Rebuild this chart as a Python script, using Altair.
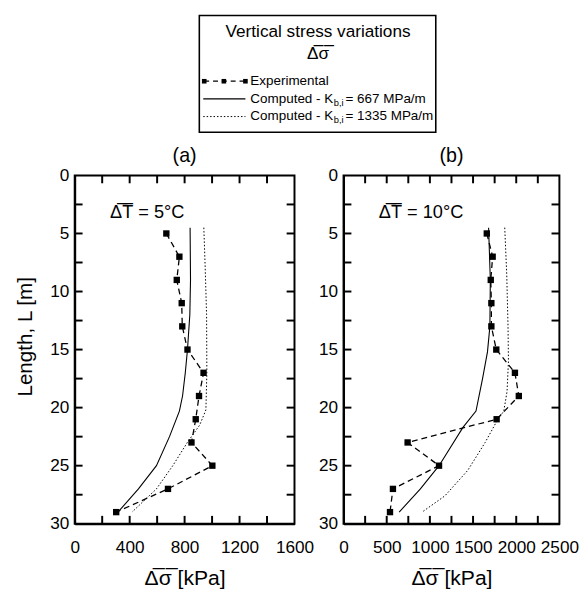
import altair as alt
import pandas as pd

FONT = "Liberation Sans"

# ---------------- data ----------------
L_exp = [5, 7, 9, 11, 13, 15, 17, 19, 21, 23, 25, 27, 29]
exp_a = [667, 762, 743, 779, 783, 821, 938, 905, 881, 850, 1002, 679, 302]
exp_b = [1659, 1727, 1705, 1712, 1712, 1769, 1985, 2030, 1773, 742, 1106, 572, 538]

L_c667_a = [4.5, 9, 12, 15, 17, 19, 20.3, 22.5, 25, 27, 29]
c667_a = [840, 843, 838, 821, 805, 785, 762, 690, 595, 464, 315]
L_c1335_a = [4.5, 8, 12, 17, 20.2, 21.5, 23, 25, 27, 29]
c1335_a = [940, 950, 960, 962, 955, 910, 820, 714, 595, 417]

L_c667_b = [4.5, 9, 13, 15.2, 17.5, 20.3, 21.7, 25, 27, 29]
c667_b = [1680, 1700, 1695, 1667, 1610, 1534, 1383, 1106, 890, 644]
L_c1335_b = [4.5, 8.5, 13, 16, 18.6, 20.3, 21.1, 23, 25.4, 27.6, 29]
c1335_b = [1867, 1890, 1905, 1910, 1894, 1856, 1780, 1640, 1439, 1174, 909]

y_labels = [0, 5, 10, 15, 20, 25, 30]
y_minor = [2.5, 5, 7.5, 10, 12.5, 15, 17.5, 20, 22.5, 25, 27.5]
x_labels_a = [0, 400, 800, 1200, 1600]
x_minor_a = [200, 400, 600, 800, 1000, 1200, 1400]
x_labels_b = [0, 500, 1000, 1500, 2000, 2500]
x_minor_b = [250, 500, 750, 1000, 1250, 1500, 1750, 2000, 2250]

W_A, W_B, H = 224, 220, 355
TK = 8
LAB = 17.5
TIT = 21


def panel(exp_vals, c1L, c1v, c2L, c2v, xmax, xlabels, xminor, width, title, dT, ytitle):
    exp_df = pd.DataFrame({"L": L_exp, "v": exp_vals})
    c1 = pd.DataFrame({"L": c1L, "v": c1v})
    c2 = pd.DataFrame({"L": c2L, "v": c2v})
    xs = alt.Scale(domain=[0, xmax], nice=False, zero=False)
    ys = alt.Scale(domain=[0, 30], reverse=True, nice=False)
    xaxis = alt.Axis(values=xlabels, format="d", title="Δ̅σ̅ [kPa]", ticks=False, grid=False,
                     domainColor="black", domainWidth=2, labelFontSize=LAB,
                     labelFont=FONT, labelColor="black", labelPadding=15,
                     titleFont=FONT, titleFontSize=21.5, titleFontWeight="normal",
                     titleColor="black", titlePadding=12, labelFlush=False)
    yaxis = alt.Axis(values=y_labels, format="d", title=ytitle, ticks=False, grid=False,
                     domainColor="black", domainWidth=2, labelFontSize=LAB,
                     labelFont=FONT, labelColor="black", labelPadding=6,
                     titleFont=FONT, titleFontSize=TIT, titleFontWeight="normal",
                     titleColor="black", titleX=-50, titleY=164, titleAngle=270,
                     titleAlign="center", titleBaseline="middle", labelFlush=False)

    l_exp = alt.Chart(exp_df).mark_line(color="black", strokeWidth=1.3, strokeDash=[6, 4]).encode(
        x=alt.X("v:Q", scale=xs, axis=xaxis),
        y=alt.Y("L:Q", scale=ys, axis=yaxis),
        order="L:Q",
    )
    p_exp = alt.Chart(exp_df).mark_square(color="black", size=42, opacity=1).encode(
        x="v:Q", y="L:Q")
    l_c1 = alt.Chart(c1).mark_line(color="black", strokeWidth=1.1).encode(
        x="v:Q", y="L:Q", order="L:Q")
    l_c2 = alt.Chart(c2).mark_line(color="black", strokeWidth=1.0, strokeDash=[1.5, 2]).encode(
        x="v:Q", y="L:Q", order="L:Q")

    ydf = pd.DataFrame({"L": y_minor})
    xdf = pd.DataFrame({"v": xminor})
    tk_l = alt.Chart(ydf).mark_rule(color="black", strokeWidth=2).encode(
        y="L:Q", x=alt.value(0), x2=alt.value(TK))
    tk_r = alt.Chart(ydf).mark_rule(color="black", strokeWidth=2).encode(
        y="L:Q", x=alt.value(width - TK), x2=alt.value(width))
    tk_t = alt.Chart(xdf).mark_rule(color="black", strokeWidth=2).encode(
        x="v:Q", y=alt.value(0), y2=alt.value(TK))
    tk_b = alt.Chart(xdf).mark_rule(color="black", strokeWidth=2).encode(
        x="v:Q", y=alt.value(H - TK), y2=alt.value(H))

    ann = alt.Chart(pd.DataFrame({"t": [dT]})).mark_text(
        align="left", baseline="middle", font=FONT, fontSize=18.5, color="black").encode(
        text="t:N", x=alt.value(36), y=alt.value(37))

    return alt.layer(l_exp, l_c2, l_c1, p_exp, tk_l, tk_r, tk_t, tk_b, ann).properties(
        width=width, height=H,
        title=alt.TitleParams(title, font=FONT, fontSize=20, fontWeight="normal",
                              color="black", offset=1),
    )


pa = panel(exp_a, L_c667_a, c667_a, L_c1335_a, c1335_a, 1600, x_labels_a, x_minor_a,
           W_A, "(a)", "Δ̅T̅ = 5°C", "Length, L [m]")
pb = panel(exp_b, L_c667_b, c667_b, L_c1335_b, c1335_b, 2500, x_labels_b, x_minor_b,
           W_B, "(b)", "Δ̅T̅ = 10°C", "")

# ---------------- legend ----------------
legend_titles = ["Vertical stress variations", "Δ̅σ̅"]
legend_labels = ["Experimental", "Computed - K", "Computed - K"]
legend_subs = ["b,i", "b,i"]
legend_tails = ["= 667 MPa/m", "= 1335 MPa/m"]

one = pd.DataFrame({"k": [0]})
LW = W_A + 50 + W_B
DY = -5
box = alt.Chart(one).mark_rect(fill="white", stroke="black", strokeWidth=1.6).encode(
    x=alt.value(127), x2=alt.value(368), y=alt.value(5 + DY), y2=alt.value(124 + DY))
t1 = alt.Chart(pd.DataFrame({"t": [legend_titles[0]]})).mark_text(
    font=FONT, fontSize=17.5, color="black", baseline="middle").encode(
    text="t:N", x=alt.value(248), y=alt.value(22 + DY))
t2 = alt.Chart(pd.DataFrame({"t": [legend_titles[1]]})).mark_text(
    font=FONT, fontSize=17.5, color="black", baseline="middle").encode(
    text="t:N", x=alt.value(248), y=alt.value(44 + DY))

rows_y = [72 + DY, 90 + DY, 108 + DY]
sym_dash = alt.Chart(one).mark_rule(color="black", strokeWidth=1.3, strokeDash=[5, 4]).encode(
    x=alt.value(132), x2=alt.value(174), y=alt.value(rows_y[0]))
sym_pts = alt.Chart(pd.DataFrame({"px": [132, 152, 174]})).mark_square(
    color="black", size=22, opacity=1).encode(x=alt.X("px:Q", scale=None), y=alt.value(rows_y[0]))
sym_solid = alt.Chart(one).mark_rule(color="black", strokeWidth=1.1).encode(
    x=alt.value(131), x2=alt.value(174), y=alt.value(rows_y[1]))
sym_dot = alt.Chart(one).mark_rule(color="black", strokeWidth=1.0, strokeDash=[1.5, 2]).encode(
    x=alt.value(131), x2=alt.value(174), y=alt.value(rows_y[2]))

labs = alt.Chart(pd.DataFrame({"t": legend_labels, "yy": rows_y})).mark_text(
    font=FONT, fontSize=13.7, color="black", align="left", baseline="middle").encode(
    text="t:N", x=alt.value(179), y=alt.Y("yy:Q", scale=None))
subs = alt.Chart(pd.DataFrame({"t": legend_subs, "yy": [rows_y[1] + 4, rows_y[2] + 4]})).mark_text(
    font=FONT, fontSize=9.5, color="black", align="left", baseline="middle").encode(
    text="t:N", x=alt.value(264), y=alt.Y("yy:Q", scale=None))
tails = alt.Chart(pd.DataFrame({"t": legend_tails, "yy": rows_y[1:]})).mark_text(
    font=FONT, fontSize=13.7, color="black", align="left", baseline="middle").encode(
    text="t:N", x=alt.value(276), y=alt.Y("yy:Q", scale=None))

legend = alt.layer(box, t1, t2, sym_dash, sym_pts, sym_solid, sym_dot, labs, subs, tails).properties(
    width=LW, height=130, view=alt.ViewBackground(stroke="transparent"))

panels = alt.hconcat(pa, pb, spacing=50, bounds="flush")
chart = alt.vconcat(legend, panels, spacing=33, bounds="flush").properties(
    padding={"left": 6, "top": 0, "right": 0, "bottom": 0}
).configure_view(stroke="black", strokeWidth=2)

chart.save("out.html", embed_options={"renderer": "svg", "actions": False})
